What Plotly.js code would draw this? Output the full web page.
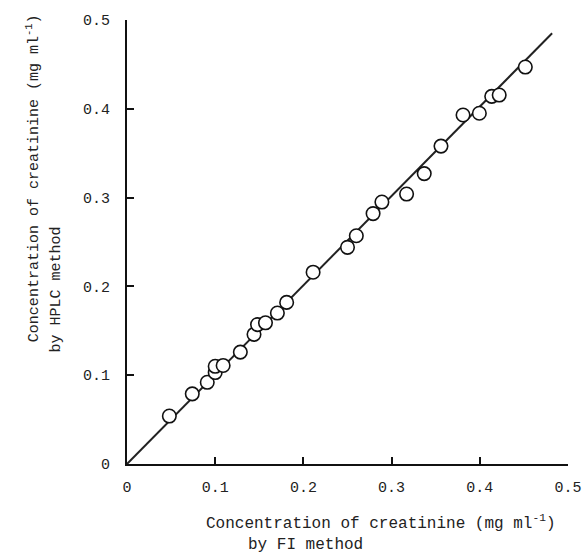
<!DOCTYPE html>
<html>
<head>
<meta charset="utf-8">
<script src="https://cdn.plot.ly/plotly-3.0.1.min.js"></script>
<style>html,body{margin:0;padding:0;background:#fff;}#chart{width:585px;height:556px;}</style>
</head>
<body>
<div id="chart"></div>
<script>
// FI method values (x) and HPLC method values (y), mg/ml
const fiValues = [0.048, 0.074, 0.091, 0.100, 0.100, 0.109, 0.1285, 0.144, 0.148, 0.157, 0.1705, 0.181, 0.211, 0.250, 0.260, 0.279, 0.289, 0.317, 0.337, 0.356, 0.381, 0.3995, 0.4135, 0.422, 0.4516];
const hplcValues = [0.054, 0.079, 0.092, 0.103, 0.110, 0.111, 0.126, 0.146, 0.157, 0.159, 0.170, 0.182, 0.216, 0.244, 0.257, 0.282, 0.295, 0.304, 0.327, 0.358, 0.393, 0.395, 0.414, 0.4155, 0.447];
// regression line end points
const lineX = [0, 0.482];
const lineY = [0, 0.485];
const tickVals = [0, 0.1, 0.2, 0.3, 0.4, 0.5];
const tickLabels = ["0", "0.1", "0.2", "0.3", "0.4", "0.5"];

const FONT = "Liberation Mono, Courier New, monospace";
const titleText = 'Concentration of creatinine (mg ml<sup>-1</sup>)';

const traces = [
  {x: lineX, y: lineY, mode: 'lines', type: 'scatter', line: {color: '#222', width: 2}, hoverinfo: 'skip', cliponaxis: false},
  {x: fiValues, y: hplcValues, mode: 'markers', type: 'scatter', cliponaxis: false,
   marker: {symbol: 'circle', size: 13.5, color: '#fff', line: {color: '#111', width: 1.6}}}
];

const axisCommon = {
  range: [0, 0.5], showgrid: false, zeroline: false, showline: true, linecolor: '#111', linewidth: 2,
  ticks: 'inside', ticklen: 7, tickwidth: 2, tickcolor: '#111',
  tickvals: tickVals, ticktext: tickLabels,
  tickfont: {family: FONT, size: 15, color: '#222'}
};

const layout = {
  width: 585, height: 556,
  margin: {l: 127, r: 17, t: 20, b: 92},
  paper_bgcolor: '#fff', plot_bgcolor: '#fff',
  showlegend: false,
  xaxis: Object.assign({}, axisCommon, {ticklabelstandoff: 8}),
  yaxis: Object.assign({}, axisCommon, {ticklabelstandoff: 12}),
  annotations: [
    {xref: 'paper', yref: 'paper', x: 0.575, y: -0.131, xanchor: 'center', yanchor: 'middle', showarrow: false,
     text: titleText, font: {family: FONT, size: 16, color: '#222'}},
    {xref: 'paper', yref: 'paper', x: 0.404, y: -0.182, xanchor: 'center', yanchor: 'middle', showarrow: false,
     text: 'by FI method', font: {family: FONT, size: 16, color: '#222'}},
    {xref: 'paper', yref: 'paper', x: -0.213, y: 0.644, xanchor: 'center', yanchor: 'middle', showarrow: false, textangle: -90,
     text: titleText, font: {family: FONT, size: 15, color: '#222'}},
    {xref: 'paper', yref: 'paper', x: -0.160, y: 0.394, xanchor: 'center', yanchor: 'middle', showarrow: false, textangle: -90,
     text: 'by HPLC method', font: {family: FONT, size: 15, color: '#222'}}
  ]
};

Plotly.newPlot('chart', traces, layout, {displayModeBar: false, staticPlot: true});
</script>
</body>
</html>
